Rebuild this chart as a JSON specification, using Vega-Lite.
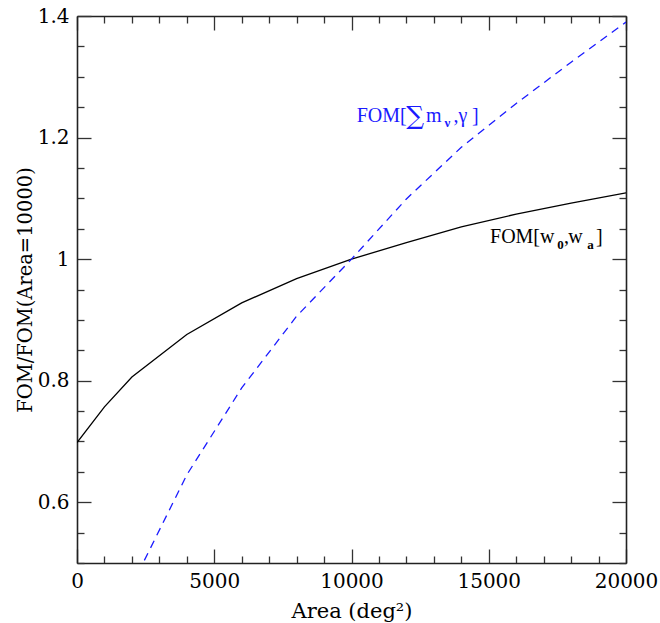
{
  "$schema": "https://vega.github.io/schema/vega-lite/v6.json",
  "width": 549,
  "height": 547,
  "autosize": "none",
  "padding": {"left": 77, "top": 16, "right": 34, "bottom": 60},
  "background": "white",
  "config": {"view": {"stroke": null}},
  "datasets": {
    "curves": [
      {"series": "w0wa", "area": 0, "fom": 0.698},
      {"series": "w0wa", "area": 1000, "fom": 0.757},
      {"series": "w0wa", "area": 2000, "fom": 0.806},
      {"series": "w0wa", "area": 4000, "fom": 0.876},
      {"series": "w0wa", "area": 6000, "fom": 0.928},
      {"series": "w0wa", "area": 8000, "fom": 0.968},
      {"series": "w0wa", "area": 10000, "fom": 1.0},
      {"series": "w0wa", "area": 12000, "fom": 1.027},
      {"series": "w0wa", "area": 14000, "fom": 1.053},
      {"series": "w0wa", "area": 16000, "fom": 1.074},
      {"series": "w0wa", "area": 18000, "fom": 1.092},
      {"series": "w0wa", "area": 20000, "fom": 1.109},
      {"series": "mnu", "area": 2000, "fom": 0.463},
      {"series": "mnu", "area": 4000, "fom": 0.645},
      {"series": "mnu", "area": 6000, "fom": 0.788},
      {"series": "mnu", "area": 8000, "fom": 0.906},
      {"series": "mnu", "area": 10000, "fom": 1.0},
      {"series": "mnu", "area": 12000, "fom": 1.099},
      {"series": "mnu", "area": 14000, "fom": 1.184},
      {"series": "mnu", "area": 16000, "fom": 1.256},
      {"series": "mnu", "area": 18000, "fom": 1.324},
      {"series": "mnu", "area": 20000, "fom": 1.39}
    ],
    "annot": [
      {"series": "mnu", "kind": "main", "t": "FOM[", "area": 10190, "fom": 1.2261},
      {"series": "mnu", "kind": "big", "t": "∑", "area": 11990, "fom": 1.2218},
      {"series": "mnu", "kind": "main", "t": "m", "area": 12714, "fom": 1.2261},
      {"series": "mnu", "kind": "sub", "t": "ν", "area": 13388, "fom": 1.2179},
      {"series": "mnu", "kind": "main", "t": ",", "area": 13716, "fom": 1.2261},
      {"series": "mnu", "kind": "main", "t": "γ", "area": 13898, "fom": 1.2261},
      {"series": "mnu", "kind": "main", "t": "]", "area": 14390, "fom": 1.2261},
      {"series": "w0wa", "kind": "main", "t": "FOM[", "area": 15046, "fom": 1.0265},
      {"series": "w0wa", "kind": "main", "t": "w", "area": 16867, "fom": 1.0265},
      {"series": "w0wa", "kind": "sub", "t": "0", "area": 17498, "fom": 1.0167},
      {"series": "w0wa", "kind": "main", "t": ",", "area": 17741, "fom": 1.0265},
      {"series": "w0wa", "kind": "main", "t": "w", "area": 17898, "fom": 1.0265},
      {"series": "w0wa", "kind": "sub", "t": "a", "area": 18590, "fom": 1.0167},
      {"series": "w0wa", "kind": "main", "t": "]", "area": 18907, "fom": 1.0265}
    ]
  },
  "layer": [
    {
      "data": {"name": "curves"},
      "transform": [{"filter": "datum.series === 'w0wa'"}],
      "mark": {"type": "line", "color": "black", "strokeWidth": 1.3, "clip": true},
      "encoding": {
        "x": {
          "field": "area", "type": "quantitative",
          "scale": {"domain": [0, 20000], "nice": false, "zero": false},
          "axis": {
            "orient": "bottom",
            "values": [0,1000,2000,3000,4000,5000,6000,7000,8000,9000,10000,11000,12000,13000,14000,15000,16000,17000,18000,19000,20000],
            "tickSize": {"condition": {"test": "datum.value % 5000 === 0", "value": -14}, "value": -7},
            "labelExpr": "datum.value % 5000 === 0 ? format(datum.value, '') : ''",
            "title": "Area (deg²)",
            "grid": false, "labelFlush": false, "labelOverlap": false,
            "labelFont": "DejaVu Serif", "labelFontSize": 20, "labelColor": "black",
            "labelPadding": 22,
            "titleFont": "DejaVu Serif", "titleFontSize": 21, "titleFontWeight": "normal", "titleColor": "black",
            "titlePadding": 2,
            "domainColor": "#222", "domainWidth": 1.6, "tickColor": "#333", "tickWidth": 1.3
          }
        },
        "y": {
          "field": "fom", "type": "quantitative",
          "scale": {"domain": [0.5, 1.4], "nice": false, "zero": false},
          "axis": {
            "orient": "left",
            "values": [0.5,0.55,0.6,0.65,0.7,0.75,0.8,0.85,0.9,0.95,1,1.05,1.1,1.15,1.2,1.25,1.3,1.35,1.4],
            "tickSize": {"condition": {"test": "indexof([0.6,0.8,1,1.2,1.4], datum.value) >= 0", "value": -14}, "value": -7},
            "labelExpr": "indexof([0.6,0.8,1,1.2,1.4], datum.value) >= 0 ? format(datum.value, '') : ''",
            "title": "FOM/FOM(Area=10000)",
            "grid": false, "labelFlush": false, "labelOverlap": false,
            "labelFont": "DejaVu Serif", "labelFontSize": 20, "labelColor": "black",
            "labelPadding": 22,
            "titleFont": "DejaVu Serif", "titleFontSize": 19.5, "titleFontWeight": "normal", "titleColor": "black",
            "titlePadding": 2,
            "domainColor": "#222", "domainWidth": 1.6, "tickColor": "#333", "tickWidth": 1.3
          }
        }
      }
    },
    {
      "data": {"name": "curves"},
      "transform": [{"filter": "datum.series === 'mnu'"}],
      "mark": {"type": "line", "color": "#1a1aff", "strokeWidth": 1.3, "strokeDash": [8, 6], "clip": true},
      "encoding": {
        "x": {
          "field": "area", "type": "quantitative",
          "axis": {
            "orient": "top",
            "values": [0,1000,2000,3000,4000,5000,6000,7000,8000,9000,10000,11000,12000,13000,14000,15000,16000,17000,18000,19000,20000],
            "tickSize": {"condition": {"test": "datum.value % 5000 === 0", "value": -14}, "value": -7},
            "labels": false, "title": null, "grid": false,
            "domainColor": "#222", "domainWidth": 1.6, "tickColor": "#333", "tickWidth": 1.3
          }
        },
        "y": {
          "field": "fom", "type": "quantitative",
          "axis": {
            "orient": "right",
            "values": [0.5,0.55,0.6,0.65,0.7,0.75,0.8,0.85,0.9,0.95,1,1.05,1.1,1.15,1.2,1.25,1.3,1.35,1.4],
            "tickSize": {"condition": {"test": "indexof([0.6,0.8,1,1.2,1.4], datum.value) >= 0", "value": -14}, "value": -7},
            "labels": false, "title": null, "grid": false,
            "domainColor": "#222", "domainWidth": 1.6, "tickColor": "#333", "tickWidth": 1.3
          }
        }
      }
    },
    {
      "data": {"name": "annot"},
      "transform": [{"filter": "datum.kind === 'main'"}],
      "mark": {"type": "text", "align": "left", "baseline": "alphabetic", "font": "Liberation Serif", "fontSize": 20},
      "encoding": {
        "x": {"field": "area", "type": "quantitative", "axis": null},
        "y": {"field": "fom", "type": "quantitative", "axis": null},
        "text": {"field": "t"},
        "color": {"field": "series", "type": "nominal", "scale": {"domain": ["w0wa", "mnu"], "range": ["black", "#1a1aff"]}, "legend": null}
      }
    },
    {
      "data": {"name": "annot"},
      "transform": [{"filter": "datum.kind === 'sub'"}],
      "mark": {"type": "text", "align": "left", "baseline": "alphabetic", "font": "Liberation Serif", "fontSize": 13, "fontWeight": "bold"},
      "encoding": {
        "x": {"field": "area", "type": "quantitative", "axis": null},
        "y": {"field": "fom", "type": "quantitative", "axis": null},
        "text": {"field": "t"},
        "color": {"field": "series", "type": "nominal", "scale": {"domain": ["w0wa", "mnu"], "range": ["black", "#1a1aff"]}, "legend": null}
      }
    },
    {
      "data": {"name": "annot"},
      "transform": [{"filter": "datum.kind === 'big'"}],
      "mark": {"type": "text", "align": "left", "baseline": "alphabetic", "font": "DejaVu Serif", "fontSize": 25},
      "encoding": {
        "x": {"field": "area", "type": "quantitative", "axis": null},
        "y": {"field": "fom", "type": "quantitative", "axis": null},
        "text": {"field": "t"},
        "color": {"field": "series", "type": "nominal", "scale": {"domain": ["w0wa", "mnu"], "range": ["black", "#1a1aff"]}, "legend": null}
      }
    }
  ],
  "resolve": {"axis": {"x": "independent", "y": "independent"}}
}
